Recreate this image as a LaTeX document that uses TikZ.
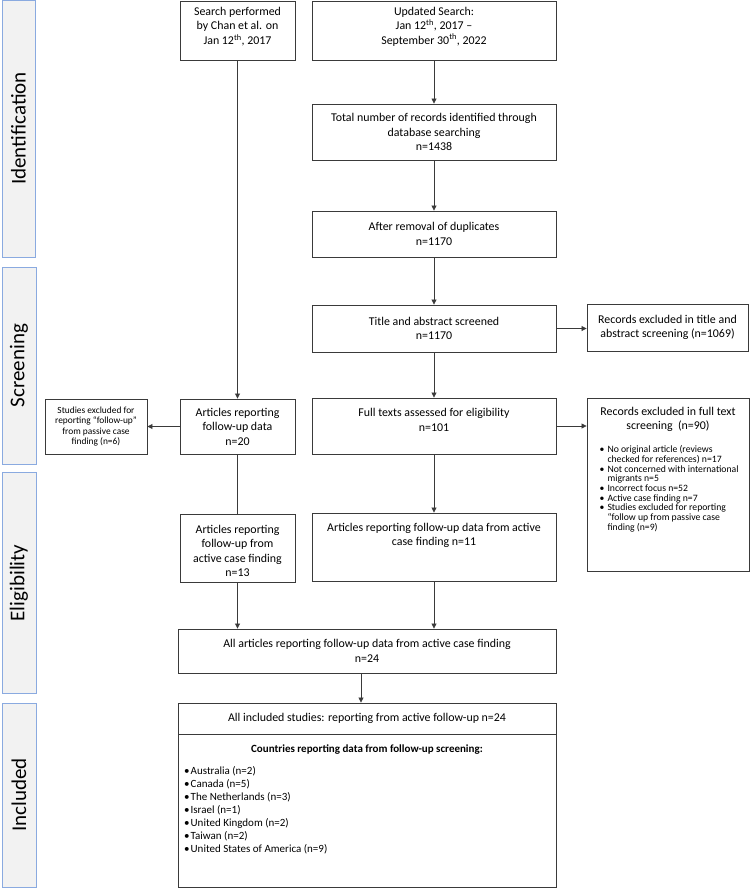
\documentclass[tikz,border=0pt]{standalone}
\usepackage{fontspec}
\setmainfont{Carlito}
\usetikzlibrary{arrows.meta}
\definecolor{linec}{HTML}{3A3A3A}
\definecolor{sidefill}{HTML}{F2F2F2}
\definecolor{sidedraw}{HTML}{8AAAE0}
\newcommand\mainf{\fontsize{11.9}{14.5}\selectfont}
\newcommand\smallf{\fontsize{9.4}{10.3}\selectfont}
\newcommand\bulf{\fontsize{9.7}{9.7}\selectfont}
\newcommand\listf{\fontsize{11}{13}\selectfont}
\newcommand\sidef{\fontsize{21}{25}\selectfont}
\newcommand\bsp{\phantom{•}\hspace{3pt}}
\tikzset{
  box/.style={draw=linec, line width=0.9pt, fill=white, inner sep=0pt, align=center, font=\mainf},
  sidebar/.style={draw=sidedraw, fill=sidefill, line width=1pt, inner sep=0pt},
  sidetext/.style={rotate=90, inner sep=0pt, font=\sidef},
  txt/.style={align=center, inner sep=0pt, font=\mainf},
  arr/.style={draw=linec, line width=0.8pt, -{Triangle[width=5pt,length=5pt]}},
  ln/.style={draw=linec, line width=0.8pt},
}
\begin{document}
\begin{tikzpicture}[x=1pt,y=-1pt]
\useasboundingbox (0,0) rectangle (750,888);

% side bars
\node[sidebar, minimum width=33pt, minimum height=256pt] (sid) at (18.5,129) {};
\node[sidetext] (sidt) at (18.5,128.5) {Identification};
\node[sidebar, minimum width=34pt, minimum height=197pt] (sscr) at (19,365.5) {};
\node[sidetext] (sscrt) at (19,365.5) {Screening};
\node[sidebar, minimum width=34pt, minimum height=221pt] (seli) at (19,583) {};
\node[sidetext] (selit) at (19,583) {Eligibility};
\node[sidebar, minimum width=34pt, minimum height=184pt] (sinc) at (19,795) {};
\node[sidetext] (sinct) at (19,795) {Included};

% boxes
\node[box, minimum width=115pt, minimum height=59pt] (chan) at (237.5,30.5) {};
\node[txt] (chant) at (237.5,26.5) {Search performed\\by Chan et al. on\\Jan 12\textsuperscript{th}, 2017};

\node[box, minimum width=244pt, minimum height=59pt] (upd) at (434,30.5) {};
\node[txt] (updt) at (434,26.5) {Updated Search:\\Jan 12\textsuperscript{th}, 2017 –\\September 30\textsuperscript{th}, 2022};

\node[box, minimum width=244pt, minimum height=56pt] (tot) at (434,132) {Total number of records identified through\\database searching\\n=1438};

\node[box, minimum width=244pt, minimum height=46pt] (dup) at (434,234) {After removal of duplicates\\n=1170};

\node[box, minimum width=244pt, minimum height=47pt] (tas) at (434,328.5) {Title and abstract screened\\n=1170};

\node[box, minimum width=161pt, minimum height=47pt] (exc1) at (667.5,327.5) {Records excluded in title and\\abstract screening (n=1069)};

\node[box, minimum width=244pt, minimum height=56pt] (full) at (434,426) {};
\node[txt] (fullt) at (434,420) {Full texts assessed for eligibility\\n=101};

\node[box, minimum width=162pt, minimum height=173pt] (exc2) at (668,484.5) {};
\node[txt] (exc2t) at (668,419.5) {Records excluded in full text\\screening\ \ (n=90)};
\node[txt, align=left, anchor=north west, font=\bulf] (exc2l) at (599.5,445.5) {•\hspace{3pt}No original article (reviews\\\bsp checked for references) n=17\\•\hspace{3pt}Not concerned with international\\\bsp migrants n=5\\•\hspace{3pt}Incorrect focus n=52\\•\hspace{3pt}Active case finding n=7\\•\hspace{3pt}Studies excluded for reporting\\\bsp “follow up from passive case\\\bsp finding (n=9)};

\node[box, minimum width=115pt, minimum height=55pt] (art20) at (237.5,426.5) {Articles reporting\\follow-up data\\n=20};

\node[box, minimum width=102pt, minimum height=55pt, font=\smallf] (pass) at (96,426.5) {Studies excluded for\\reporting “follow-up”\\from passive case\\finding (n=6)};

\node[box, minimum width=115pt, minimum height=68pt] (art13) at (237.5,548) {};
\node[txt] (art13t) at (237.5,551) {Articles reporting\\follow-up from\\active case finding\\n=13};

\node[box, minimum width=244pt, minimum height=68pt] (art11) at (434,547) {};
\node[txt] (art11t) at (434,535.5) {Articles reporting follow-up data from active\\case finding n=11};

\node[box, minimum width=378pt, minimum height=44pt] (all24) at (367,651) {All articles reporting follow-up data from active case finding\\n=24};

\node[box, minimum width=378pt, minimum height=31pt] (incltop) at (367,718.5) {All included studies: reporting from active follow-up n=24};
\node[box, minimum width=378pt, minimum height=153pt] (inclbot) at (367,810.5) {};
\node[txt, font=\fontsize{11}{13}\selectfont\bfseries] (inclh) at (367,750) {Countries reporting data from follow-up screening:};
\node[txt, align=left, anchor=north west, font=\listf] (incll) at (184,766) {•\kern1pt Australia (n=2)\\•\kern1pt Canada (n=5)\\•\kern1pt The Netherlands (n=3)\\•\kern1pt Israel (n=1)\\•\kern1pt United Kingdom (n=2)\\•\kern1pt Taiwan (n=2)\\•\kern1pt United States of America (n=9)};

% connectors
\draw[arr] (chan.south) -- (art20.north);
\draw[arr] (upd.south) -- (tot.north);
\draw[arr] (tot.south) -- (dup.north);
\draw[arr] (dup.south) -- (tas.north);
\draw[arr] (tas.east) -- (tas.east -| exc1.west);
\draw[arr] (tas.south) -- (full.north);
\draw[arr] (full.east) -- (full.east -| exc2.west);
\draw[arr] (art20.west) -- (art20.west -| pass.east);
\draw[ln] (art20.south) -- (art13.north);
\draw[arr] (full.south) -- (art11.north);
\draw[arr] (art13.south) -- (art13.south |- all24.north);
\draw[arr] (art11.south) -- (art11.south |- all24.north);
\draw[arr] ([xshift=-6pt]all24.south) -- ([xshift=-6pt]all24.south |- incltop.north);
\end{tikzpicture}
\end{document}
